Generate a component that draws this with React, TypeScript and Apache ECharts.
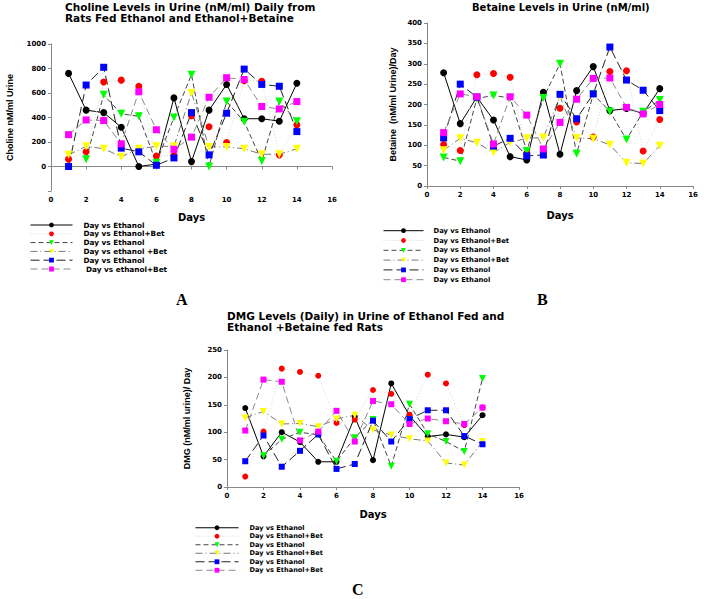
import React, { useEffect, useRef } from "react";
import * as echarts from "echarts";

const days = [1, 2, 3, 4, 5, 6, 7, 8, 9, 10, 11, 12, 13, 14];

// Panel A – Choline
const cholBlack = [760, 460, 440, 320, 0, 20, 560, 40, 460, 670, 390, 390, 370, 680];
const cholRed = [60, 120, 690, 705, 655, 85, 90, 415, 325, 195, 700, 695, 95, 340];
const cholGreen = [null, 60, 585, 430, 410, 30, 400, 750, 0, 530, 365, 45, 530, 370];
const cholYellow = [95, 165, 145, 80, 145, 165, 165, 600, 160, 160, 145, 100, 100, 145];
const cholBlue = [0, 665, 810, 150, 120, 10, 70, 440, 95, 435, 795, 670, 655, 285];
const cholMagenta = [260, 380, 375, 185, 610, 300, 140, 240, 565, 725, 710, 490, 470, 530];

// Panel B – Betaine
const betBlack = [278, 153, 218, 162, 72, 64, 230, 78, 234, 293, 185, 190, 178, 239];
const betRed = [102, 87, 273, 276, 267, 80, 85, 191, 157, 120, 281, 283, 86, 163];
const betGreen = [70, 61, 215, 222, 216, 86, 216, 300, 79, 225, 183, 114, 182, 211];
const betYellow = [88, 117, 106, 82, 107, 117, 119, 220, 118, 116, 101, 57, 55, 99];
const betBlue = [118, 250, 218, 98, 117, 74, 76, 225, 165, 226, 341, 260, 235, 185];
const betMagenta = [131, 226, 219, 103, 219, 174, 91, 156, 213, 264, 265, 193, 177, 200];

// Panel C – DMG
const dmgBlack = [144, 56, 100, 82, 46, 46, 128, 49, 189, 130, 92, 96, 91, 131];
const dmgRed = [19, 101, 216, 210, 203, 117, 123, 177, 170, 132, 205, 189, 113, 145];
const dmgGreen = [null, 57, 87, 100, 95, 47, 90, 123, 38, 151, 97, 83, 65, 198];
const dmgYellow = [126, 138, 115, 116, 110, 124, 131, 104, 95, 88, 84, 44, 40, 83];
const dmgBlue = [47, 94, 37, 66, 96, 33, 42, 121, 83, 124, 140, 140, 93, 78];
const dmgMagenta = [103, 196, 192, 85, 101, 139, 83, 157, 151, 115, 125, 120, 115, 145];

const legendA = ["Day vs Ethanol", "Day vs Ethanol+Bet", "Day vs Ethanol", "Day vs ethanol +Bet", "Day vs Ethanol", " Day vs ethanol+Bet"];
const legendB = ["Day vs Ethanol", "Day vs Ethanol+Bet", "Day vs Ethanol", "Day vs Ethanol+Bet", "Day vs Ethanol", "Day vs Ethanol"];
const legendC = ["Day vs Ethanol", "Day vs Ethanol+Bet", "Day vs Ethanol", "Day vs Ethanol+Bet", "Day vs Ethanol", "Day vs Ethanol+Bet"];

const WIDE = "DejaVu Sans";
const NARROW = "Liberation Sans";

const styles = [
  { color: "#000000", line: "#000000", type: "solid", symbol: "circle", rotate: 0, size: 7 },
  { color: "#ff0000", line: "#d6d6d6", type: [1, 2], symbol: "circle", rotate: 0, size: 7 },
  { color: "#00ff00", line: "#444444", type: [5, 3], symbol: "triangle", rotate: 180, size: 8 },
  { color: "#ffff00", line: "#777777", type: [7, 3, 1, 3], symbol: "triangle", rotate: 180, size: 8 },
  { color: "#0000ff", line: "#222222", type: [9, 4], symbol: "rect", rotate: 0, size: 7 },
  { color: "#ff00ff", line: "#8a8a8a", type: [7, 4], symbol: "rect", rotate: 0, size: 7 },
];

export default function App() {
  const ref = useRef<HTMLDivElement>(null);
  useEffect(() => {
    if (!ref.current) return;
    const chart = echarts.init(ref.current, undefined, { renderer: "svg" });

    const panels = [
      { key: "A", data: [cholBlack, cholRed, cholGreen, cholYellow, cholBlue, cholMagenta], labels: legendA },
      { key: "B", data: [betBlack, betRed, betGreen, betYellow, betBlue, betMagenta], labels: legendB },
      { key: "C", data: [dmgBlack, dmgRed, dmgGreen, dmgYellow, dmgBlue, dmgMagenta], labels: legendC },
    ];

    const labelMap: Record<string, string> = {};
    const series: any[] = [];
    const legendNames: string[][] = [];
    panels.forEach((p, pi) => {
      const names: string[] = [];
      p.data.forEach((vals, si) => {
        const st = styles[si];
        const name = p.key + si;
        labelMap[name] = p.labels[si];
        names.push(name);
        series.push({
          type: "line",
          name,
          xAxisIndex: pi,
          yAxisIndex: pi,
          data: days.map((d, i) => [d, vals[i]]),
          symbol: st.symbol,
          symbolRotate: st.rotate,
          symbolSize: pi === 2 ? st.size - 1 : st.size,
          itemStyle: { color: st.color },
          lineStyle: { color: st.line, width: 1, type: st.type },
          connectNulls: false,
        });
      });
      legendNames.push(names);
    });

    const axisLabel = { fontFamily: WIDE, fontWeight: "bold", fontSize: 7, color: "#000", margin: 5 };
    const axisLine = { show: true, lineStyle: { color: "#888", width: 1 } };
    const axisTick = { show: true, inside: false, length: 3, lineStyle: { color: "#888" } };
    const nameStyle = { fontFamily: NARROW, fontWeight: "bold", fontSize: 9, color: "#000" };

    const xAxis = [0, 1, 2].map((i) => ({
      type: "value",
      gridIndex: i,
      min: 0,
      max: 16,
      interval: 2,
      splitLine: { show: false },
      axisLine,
      axisTick,
      axisLabel,
      name: "Days",
      nameLocation: "middle",
      nameGap: [21, 24, 22][i],
      nameTextStyle: { fontFamily: WIDE, fontWeight: "bold", fontSize: 10, color: "#000" },
    }));

    const yAxis = [
      {
        type: "value", gridIndex: 0, min: -200, max: 1000, interval: 200,
        axisLabel: { ...axisLabel, formatter: (v: number) => (v < 0 ? "" : String(v)) },
        name: "Choline nM/ml Urine", nameGap: 37,
      },
      { type: "value", gridIndex: 1, min: 0, max: 400, interval: 50, axisLabel, name: "Betaine  (nM/ml Urine)/Day", nameGap: 30 },
      { type: "value", gridIndex: 2, min: 0, max: 250, interval: 50, axisLabel, name: "DMG (nM/ml urine)/ Day", nameGap: 36 },
    ].map((a) => ({
      ...a,
      splitLine: { show: false },
      axisLine,
      axisTick,
      nameLocation: "middle",
      nameRotate: 90,
      nameTextStyle: nameStyle,
    }));

    const legendBase = {
      orient: "vertical",
      itemHeight: 6,
      itemGap: 0,
      padding: 0,
      selectedMode: false,
      lineStyle: { width: 1 },
      formatter: (n: string) => labelMap[n],
    };
    const legText = (size: number, lh: number, pad: number) => ({
      fontFamily: WIDE, fontWeight: "bold", fontSize: size, color: "#000", lineHeight: lh, padding: [0, 0, 0, pad],
    });

    chart.setOption({
      animation: false,
      backgroundColor: "#fff",
      title: [
        {
          text: "Choline Levels in Urine (nM/ml) Daily from\nRats Fed Ethanol and Ethanol+Betaine",
          left: 65, top: 1, padding: 0,
          textStyle: { fontFamily: WIDE, fontWeight: "bold", fontSize: 10.5, lineHeight: 11, color: "#000" },
        },
        {
          text: "Betaine Levels in Urine (nM/ml)",
          left: 472, top: 2, padding: 0,
          textStyle: { fontFamily: WIDE, fontWeight: "bold", fontSize: 10, lineHeight: 11, color: "#000" },
        },
        {
          text: "DMG Levels (Daily) in Urine of Ethanol Fed and\nEthanol +Betaine fed Rats",
          left: 227, top: 310.5, padding: 0,
          textStyle: { fontFamily: WIDE, fontWeight: "bold", fontSize: 10.5, lineHeight: 11, color: "#000" },
        },
      ],
      grid: [
        { left: 51, top: 44, width: 281, height: 147 },
        { left: 427, top: 23, width: 266, height: 163 },
        { left: 227, top: 350, width: 292, height: 137 },
      ],
      xAxis,
      yAxis,
      legend: [
        { ...legendBase, data: legendNames[0], left: 30, top: 220.6, itemWidth: 42, textStyle: legText(7.3, 8.8, 6) },
        { ...legendBase, data: legendNames[1], left: 383, top: 225.8, itemWidth: 40, textStyle: legText(6.8, 9.8, 5) },
        { ...legendBase, data: legendNames[2], left: 195, top: 523.5, itemWidth: 43, textStyle: legText(6.6, 8.5, 6) },
      ],
      graphic: [
        { type: "text", left: 176, top: 291, style: { text: "A", font: "bold 16px 'Liberation Serif'", fill: "#000" } },
        { type: "text", left: 537, top: 291, style: { text: "B", font: "bold 16px 'Liberation Serif'", fill: "#000" } },
        { type: "text", left: 352, top: 581, style: { text: "C", font: "bold 16px 'Liberation Serif'", fill: "#000" } },
      ],
      series,
    });
    return () => chart.dispose();
  }, []);

  return <div ref={ref} style={{ position: "absolute", left: 0, top: 0, width: 704, height: 599 }} />;
}
